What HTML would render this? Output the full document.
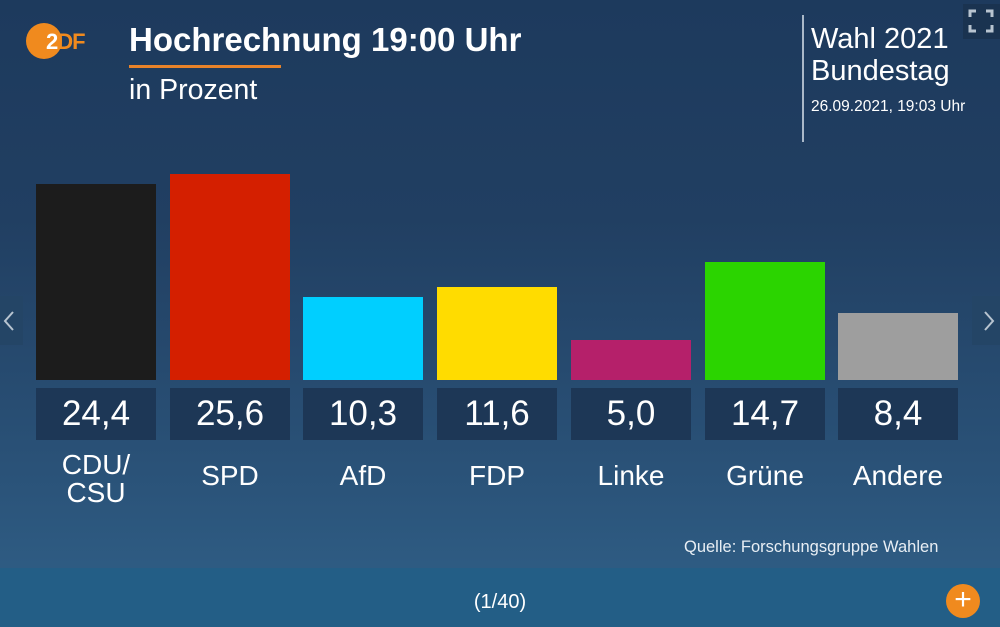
<!DOCTYPE html>
<html><head><meta charset="utf-8"><style>
*{margin:0;padding:0;box-sizing:border-box}
body{width:1000px;height:627px;overflow:hidden;font-family:"Liberation Sans","DejaVu Sans",sans-serif;color:#fff;position:relative;
background:linear-gradient(180deg,#1d3a5d 0%,#213f62 35%,#2a5278 75%,#2e5b82 90%)}
.a{position:absolute}
.bar{position:absolute;width:120px}
.val{position:absolute;top:388px;width:120px;height:52px;background:#1d3756;font-size:35px;text-align:center;line-height:52px}
.lab{position:absolute;width:140px;text-align:center;font-size:28px;line-height:28px}
</style></head><body>
<div class="a" style="left:26px;top:23px;width:36px;height:36px;border-radius:50%;background:#f08a1e"></div>
<div class="a" style="left:46px;top:29px;font-size:22px;font-weight:bold;color:#fff;letter-spacing:-1px"><span>2</span><span style="color:#f08a1e">DF</span></div>
<div class="a" style="left:129px;top:21px;font-size:33px;font-weight:bold">Hochrechnung 19:00 Uhr</div>
<div class="a" style="left:129px;top:65px;width:152px;height:3px;background:#e8832a"></div>
<div class="a" style="left:129px;top:74px;font-size:28.5px">in Prozent</div>
<div class="a" style="left:802px;top:15px;width:2px;height:127px;background:#aab8c8"></div>
<div class="a" style="left:811px;top:23px;font-size:29px;line-height:32px">Wahl 2021<br>Bundestag</div>
<div class="a" style="left:811px;top:98px;font-size:15.5px">26.09.2021, 19:03 Uhr</div>
<div class="a" style="left:963px;top:4px;width:37px;height:35px;background:#1a3350"></div>
<svg class="a" style="left:968px;top:9px" width="26" height="24"><g stroke="#b8c4d0" stroke-width="3" fill="none"><path d="M2 8V2H8M18 2H24V8M24 16V22H18M8 22H2V16"/></g></svg>
<div class="a" style="left:0;top:296px;width:23px;height:49px;background:#244566"></div>
<div class="a" style="left:972px;top:296px;width:28px;height:49px;background:#244566"></div>
<svg class="a" style="left:2px;top:310px" width="14" height="22"><path d="M11 2L3 11L11 20" stroke="#b8c4d0" stroke-width="2" fill="none"/></svg>
<svg class="a" style="left:982px;top:310px" width="14" height="22"><path d="M3 2L11 11L3 20" stroke="#b8c4d0" stroke-width="2" fill="none"/></svg>

<div class="bar" style="left:36px;top:184px;height:196px;background:#1c1c1c"></div>
<div class="bar" style="left:170px;top:174px;height:206px;background:#d41f00"></div>
<div class="bar" style="left:303px;top:297px;height:83px;background:#00cfff"></div>
<div class="bar" style="left:437px;top:287px;height:93px;background:#ffdc00"></div>
<div class="bar" style="left:571px;top:340px;height:40px;background:#b5206a"></div>
<div class="bar" style="left:705px;top:262px;height:118px;background:#2bd400"></div>
<div class="bar" style="left:838px;top:313px;height:67px;background:#9e9e9e"></div>

<div class="val" style="left:36px">24,4</div>
<div class="val" style="left:170px">25,6</div>
<div class="val" style="left:303px">10,3</div>
<div class="val" style="left:437px">11,6</div>
<div class="val" style="left:571px">5,0</div>
<div class="val" style="left:705px">14,7</div>
<div class="val" style="left:838px">8,4</div>

<div class="lab" style="left:26px;top:451px">CDU/<br>CSU</div>
<div class="lab" style="left:160px;top:462px">SPD</div>
<div class="lab" style="left:293px;top:462px">AfD</div>
<div class="lab" style="left:427px;top:462px">FDP</div>
<div class="lab" style="left:561px;top:462px">Linke</div>
<div class="lab" style="left:695px;top:462px">Grüne</div>
<div class="lab" style="left:828px;top:462px">Andere</div>

<div class="a" style="left:684px;top:538px;font-size:16.5px;color:#e8eef4">Quelle: Forschungsgruppe Wahlen</div>
<div class="a" style="left:0;top:568px;width:1000px;height:59px;background:#235e86"></div>
<div class="a" style="left:0;top:591px;width:1000px;text-align:center;font-size:20px">(1/40)</div>
<div class="a" style="left:946px;top:584px;width:34px;height:34px;border-radius:50%;background:#f08a1e"></div>
<div class="a" style="left:946px;top:584px;width:34px;height:34px;text-align:center;line-height:32px;font-size:30px">+</div>
</body></html>
